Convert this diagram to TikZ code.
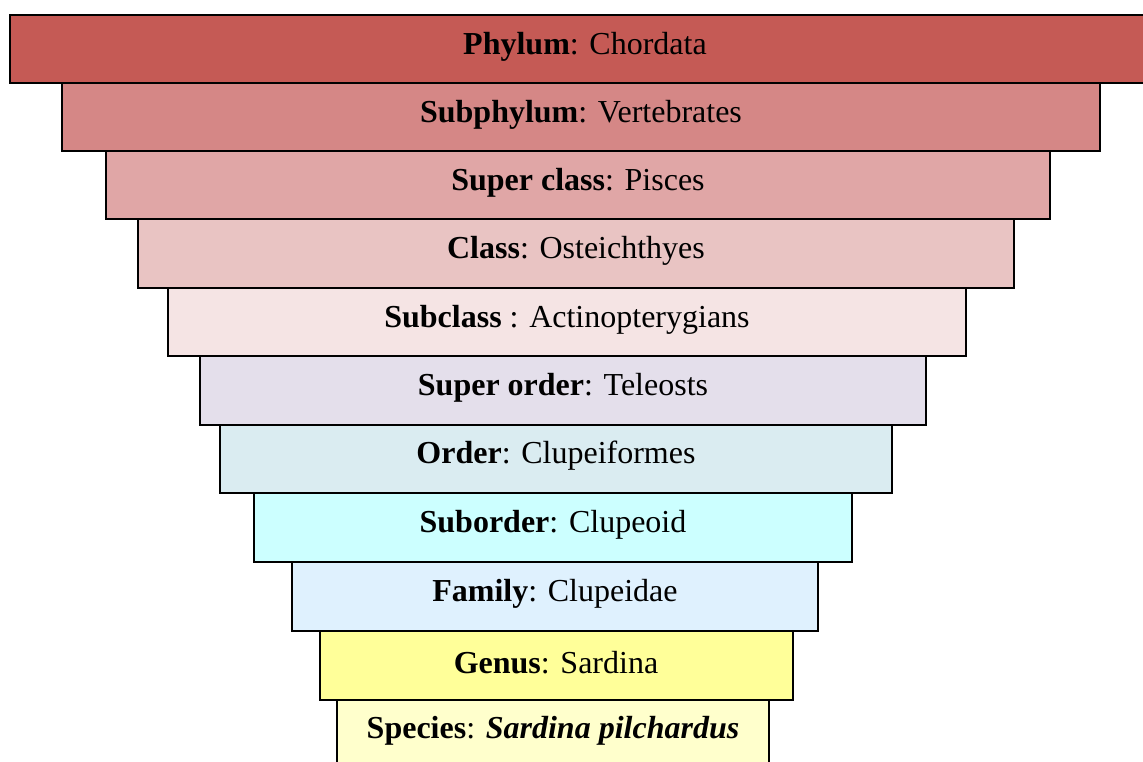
\documentclass[tikz,border=0pt]{standalone}
\usepackage{fontspec}
\setmainfont{Liberation Serif}
\usepackage{xcolor}
\usepackage{tikz}
\definecolor{cphylum}{HTML}{C55A55}
\definecolor{csubphylum}{HTML}{D58786}
\definecolor{csuperclass}{HTML}{E0A6A6}
\definecolor{cclass}{HTML}{E9C4C3}
\definecolor{csubclass}{HTML}{F5E4E4}
\definecolor{csuperorder}{HTML}{E4DFEB}
\definecolor{corder}{HTML}{DAECF1}
\definecolor{csuborder}{HTML}{CCFFFF}
\definecolor{cfamily}{HTML}{DFF1FE}
\definecolor{cgenus}{HTML}{FFFF99}
\definecolor{cspecies}{HTML}{FFFFCC}
\tikzset{
  tier/.style={draw=black, line width=0.8pt},
  rank/.style={inner sep=0pt, font=\fontsize{24}{28}\selectfont}
}

\begin{document}
\begin{tikzpicture}[x=0.75pt, y=-0.75pt]
  \useasboundingbox (0,0) rectangle (1143,761);

  % levels: name/left/top/right/bottom/colour
  \foreach \n/\l/\t/\r/\b/\c in {phylum/10/15/1150/83/cphylum,
      subphylum/62/83/1100/151/csubphylum,
      superclass/106/151/1050/219/csuperclass,
      class/138/219/1014/288/cclass,
      subclass/168/288/966/356/csubclass,
      superorder/200/356/926/425/csuperorder,
      order/220/425/892/493/corder,
      suborder/254/493/852/562/csuborder,
      family/292/562/818/631/cfamily,
      genus/320/631/793/700/cgenus,
      species/337/700/769/775/cspecies}
    {\draw[tier, fill=\c] (\l,\t) rectangle (\r,\b);}

  \node[rank] (phylum) at (585,47) {\textbf{Phylum}: Chordata};
  \node[rank] (subphylum) at (581,115) {\textbf{Subphylum}: Vertebrates};
  \node[rank] (superclass) at (578,183) {\textbf{Super class}: Pisces};
  \node[rank] (class) at (576,251) {\textbf{Class}: Osteichthyes};
  \node[rank] (subclass) at (567,320) {\textbf{Subclass} : Actinopterygians};
  \node[rank] (superorder) at (563,388) {\textbf{Super order}: Teleosts};
  \node[rank] (order) at (556,456) {\textbf{Order}: Clupeiformes};
  \node[rank] (suborder) at (553,525) {\textbf{Suborder}: Clupeoid};
  \node[rank] (family) at (555,594) {\textbf{Family}: Clupeidae};
  \node[rank] (genus) at (556,663) {\textbf{Genus}: Sardina};
  \node[rank] (species) at (553,731) {\textbf{Species}: \textbf{\textit{Sardina pilchardus}}};
\end{tikzpicture}
\end{document}
